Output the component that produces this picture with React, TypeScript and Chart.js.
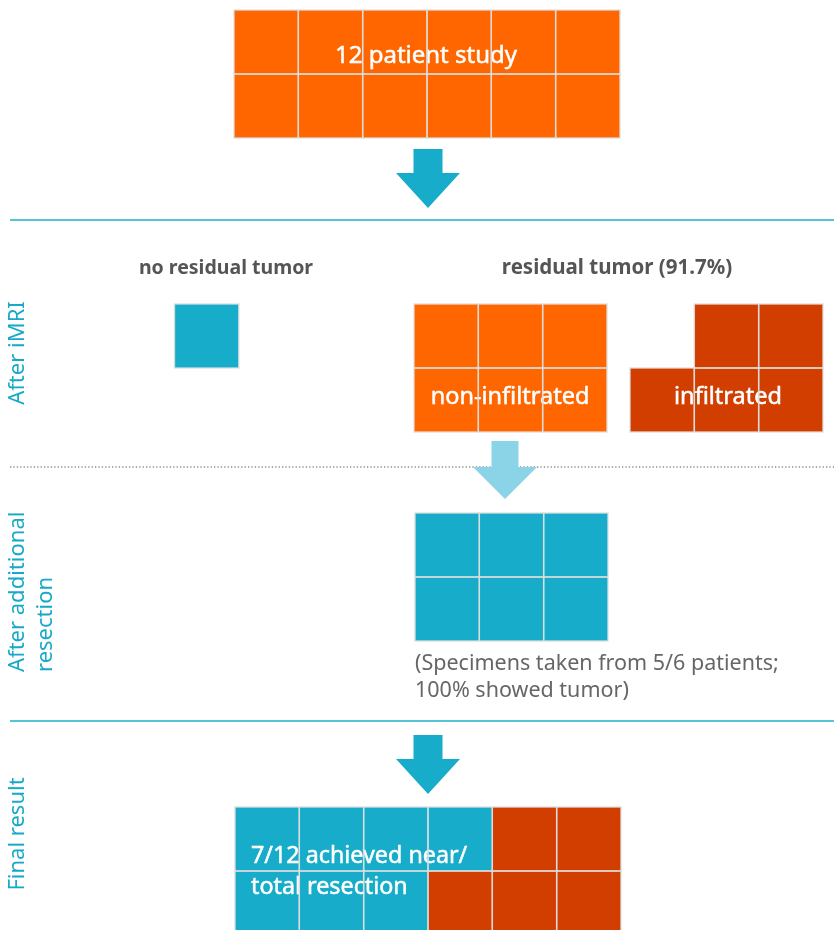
import React, { useEffect, useRef } from "react";
import { Chart, registerables } from "chart.js";

Chart.register(...registerables);

// ---- data ----
const totalPatients = 12;
const studyLabel = "12 patient study";
const afterIMRIGroups = ["no residual tumor", "non-infiltrated", "infiltrated"];
const afterIMRIPatients = [1, 6, 5];
const residualPercent = 91.7;
const additionalResectionPatients = 6;
const specimenNote = ["(Specimens taken from 5/6 patients;", "100% showed tumor)"];
const finalGroups = ["near/total resection", "residual"];
const finalPatients = [7, 5];
const finalNote = ["7/12 achieved near/", "total resection"];
const stageLabels = [["After iMRI"], ["After additional", "resection"], ["Final result"]];

// ---- style ----
const ORANGE = "#FF6600";
const DARK = "#D23E00";
const TEAL = "#16ACCA";
const LIGHT = "#8BD4E7";
const GRID = "rgba(222,222,222,0.9)";
const FONT = "'Noto Sans', 'Open Sans', sans-serif";
const CW = 64.33;
const CH = 64;

type Cell = { x: number; y: number };

function gridCells(ox: number, oy: number, cols: number, slots: number[]): Cell[] {
  return slots.map((s) => ({
    x: ox + (s % cols) * CW + CW / 2,
    y: oy + Math.floor(s / cols) * CH + CH / 2,
  }));
}
function range(a: number, b: number) {
  const r: number[] = [];
  for (let i = a; i < b; i++) r.push(i);
  return r;
}

export default function App() {
  const ref = useRef<HTMLCanvasElement | null>(null);
  useEffect(() => {
    const canvas = ref.current;
    if (!canvas) return;

    const topCells = gridCells(234, 10, 6, range(0, totalPatients));
    const noResCells = gridCells(174.5, 304, 1, range(0, afterIMRIPatients[0]));
    const nonInfCells = gridCells(414, 304, 3, range(0, afterIMRIPatients[1]));
    const infCells = gridCells(630, 304, 3, range(6 - afterIMRIPatients[2], 6));
    const resCells = gridCells(415, 513, 3, range(0, additionalResectionPatients));
    const nt = finalPatients[0];
    const topN = Math.ceil(nt / 2);
    const botN = nt - topN;
    const tealSlots = [...range(0, topN), ...range(6, 6 + botN)];
    const redSlots = range(0, 12).filter((s) => !tealSlots.includes(s));
    const finalTeal = gridCells(235, 807, 6, tealSlots);
    const finalRed = gridCells(235, 807, 6, redSlots);

    const ds = (label: string, data: Cell[], color: string) => ({
      label,
      data,
      backgroundColor: color,
      pointRadius: 0,
      pointHoverRadius: 0,
    });

    const datasets = [
      ds(studyLabel, topCells, ORANGE),
      ds(afterIMRIGroups[0], noResCells, TEAL),
      ds(afterIMRIGroups[1], nonInfCells, ORANGE),
      ds(afterIMRIGroups[2], infCells, DARK),
      ds("additional resection", resCells, TEAL),
      ds(finalGroups[0], finalTeal, TEAL),
      ds(finalGroups[1], finalRed, DARK),
    ];

    const drawPlugin = {
      id: "flow",
      afterDatasetsDraw(chart: any) {
        const ctx = chart.ctx as CanvasRenderingContext2D;
        const xs = chart.scales.x;
        const ys = chart.scales.y;
        const X = (v: number) => xs.getPixelForValue(v);
        const Y = (v: number) => ys.getPixelForValue(v);

        // dividers
        ctx.save();
        ctx.strokeStyle = "#55C4D6";
        ctx.lineWidth = 1.8;
        [220, 721].forEach((yy) => {
          ctx.beginPath();
          ctx.moveTo(X(10), Y(yy));
          ctx.lineTo(X(834), Y(yy));
          ctx.stroke();
        });
        ctx.strokeStyle = "#8f8f8f";
        ctx.lineWidth = 1.3;
        ctx.setLineDash([1.3, 2.1]);
        ctx.beginPath();
        ctx.moveTo(X(10), Y(467));
        ctx.lineTo(X(834), Y(467));
        ctx.stroke();
        ctx.setLineDash([]);
        ctx.restore();

        // arrows
        const arrow = (cx: number, top: number, neck: number, tip: number, sw: number, hw: number, color: string) => {
          ctx.save();
          ctx.fillStyle = color;
          ctx.beginPath();
          ctx.moveTo(X(cx - sw / 2), Y(top));
          ctx.lineTo(X(cx + sw / 2), Y(top));
          ctx.lineTo(X(cx + sw / 2), Y(neck));
          ctx.lineTo(X(cx + hw / 2), Y(neck));
          ctx.lineTo(X(cx), Y(tip));
          ctx.lineTo(X(cx - hw / 2), Y(neck));
          ctx.lineTo(X(cx - sw / 2), Y(neck));
          ctx.closePath();
          ctx.fill();
          ctx.restore();
        };
        arrow(428, 149, 173, 208, 29, 64, TEAL);
        arrow(505, 441, 467, 499, 27, 64, LIGHT);
        arrow(428, 735, 759, 794, 29, 64, TEAL);

        // cells
        chart.data.datasets.forEach((d: any, i: number) => {
          const meta = chart.getDatasetMeta(i);
          ctx.save();
          ctx.fillStyle = d.backgroundColor;
          meta.data.forEach((pt: any, j: number) => {
            const c = d.data[j];
            const x0 = X(c.x - CW / 2);
            const x1 = X(c.x + CW / 2);
            const y0 = Y(c.y - CH / 2);
            const y1 = Y(c.y + CH / 2);
            ctx.fillRect(x0, y0, x1 - x0, y1 - y0);
          });
          ctx.restore();
        });

        // texts
        const text = (s: string, x: number, y: number, opts: { size: number; weight?: string; color: string; align?: CanvasTextAlign; stroke?: number }) => {
          ctx.save();
          ctx.font = `${opts.weight || "normal"} ${opts.size}px ${FONT}`;
          ctx.fillStyle = opts.color;
          ctx.strokeStyle = opts.color;
          ctx.textAlign = opts.align || "center";
          ctx.textBaseline = "middle";
          ctx.fillText(s, X(x), Y(y));
          if (opts.stroke) {
            ctx.lineWidth = opts.stroke;
            ctx.strokeText(s, X(x), Y(y));
          }
          ctx.restore();
        };
        text(studyLabel, 426, 56, { size: 24, color: "#fff", stroke: 0.5 });
        text(afterIMRIGroups[0], 226, 268, { size: 19.5, weight: "bold", color: "#555" });
        text(`residual tumor (${residualPercent}%)`, 617, 268, { size: 20.5, weight: "bold", color: "#555" });
        text(afterIMRIGroups[1], 510, 397, { size: 23.5, color: "#fff", stroke: 0.5 });
        text(afterIMRIGroups[2], 728, 397, { size: 23.5, color: "#fff", stroke: 0.5 });
        specimenNote.forEach((s, i) => text(s, 415, 664 + i * 27, { size: 21.5, color: "#666", align: "left" }));
        finalNote.forEach((s, i) => text(s, 251, 856 + i * 31, { size: 23.3, color: "#fff", align: "left", stroke: 0.5 }));

        // grid lines over cells
        chart.data.datasets.forEach((d: any) => {
          ctx.save();
          ctx.strokeStyle = GRID;
          ctx.lineWidth = 1.4;
          d.data.forEach((c: Cell) => {
            const x0 = X(c.x - CW / 2);
            const x1 = X(c.x + CW / 2);
            const y0 = Y(c.y - CH / 2);
            const y1 = Y(c.y + CH / 2);
            ctx.strokeRect(x0, y0, x1 - x0, y1 - y0);
          });
          ctx.restore();
        });

        // stage labels (rotated)
        const stage = (lines: string[], x: number, yStart: number, align: CanvasTextAlign) => {
          lines.forEach((s, i) => {
            ctx.save();
            ctx.translate(X(x + i * 28), Y(yStart));
            ctx.rotate(-Math.PI / 2);
            ctx.font = `normal 22px ${FONT}`;
            ctx.fillStyle = "#18A9C9";
            ctx.textAlign = align;
            ctx.textBaseline = "middle";
            ctx.fillText(s, 0, 0);
            ctx.restore();
          });
        };
        stage(stageLabels[0], 18, 353, "center");
        stage(stageLabels[1], 18, 672, "left");
        stage(stageLabels[2], 18, 834, "center");
      },
    };

    const chart = new Chart(canvas, {
      type: "scatter",
      data: { datasets },
      options: {
        animation: false,
        responsive: false,
        maintainAspectRatio: false,
        layout: { padding: 0 },
        events: [],
        plugins: { legend: { display: false }, tooltip: { enabled: false } },
        scales: {
          x: { type: "linear", min: 0, max: 834, display: false },
          y: { type: "linear", min: 0, max: 930, reverse: true, display: false },
        },
      },
      plugins: [drawPlugin],
    });
    return () => chart.destroy();
  }, []);

  return (
    <div style={{ position: "absolute", left: 0, top: 0, width: 834, height: 930, background: "#fff" }}>
      <canvas ref={ref} width={834} height={930} />
    </div>
  );
}
